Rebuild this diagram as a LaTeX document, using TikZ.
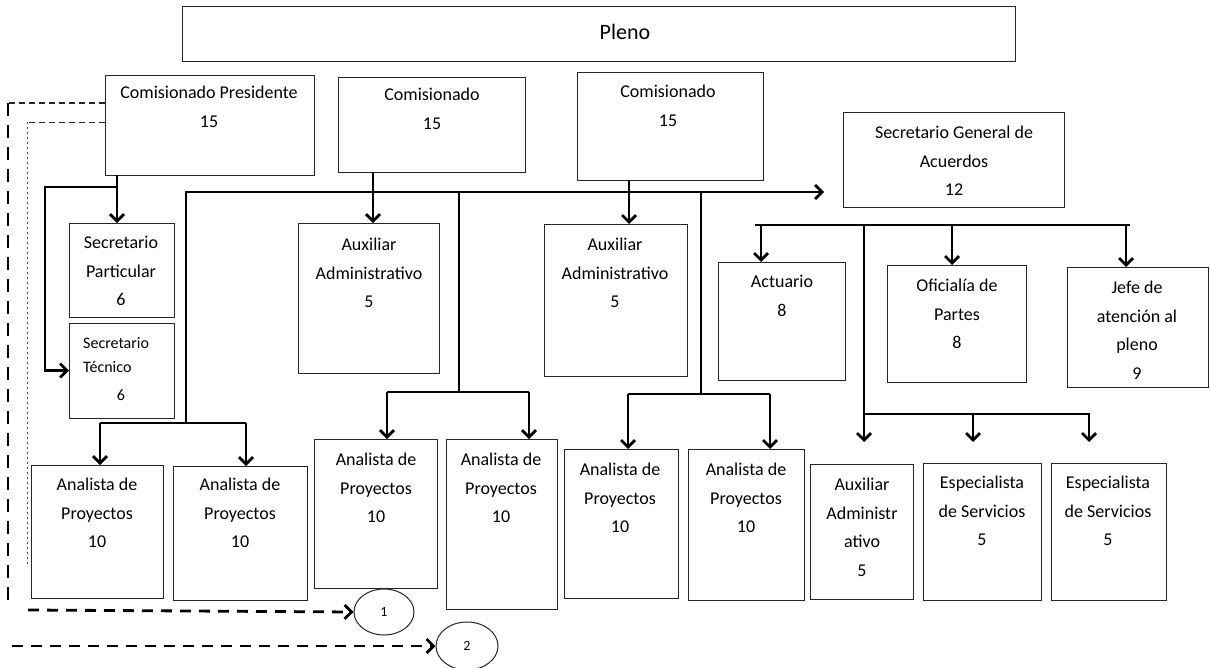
\documentclass[tikz,border=0pt]{standalone}
\usepackage{fontspec}
\setmainfont{Carlito}
\usetikzlibrary{arrows.meta,fit,shapes.geometric}
\newcommand\bx[5]{\node[box, fit={(#2,#3) (#4,#5)}] (#1) {};}
\begin{document}
\begin{tikzpicture}[x=1pt,y=-1pt,
  box/.style={draw=black!85, line width=1pt, inner sep=0pt, outer sep=0pt},
  lbl/.style={font=\fontsize{18}{28.5}\selectfont, align=center, anchor=north, inner sep=0pt, text=black},
  conn/.style={line width=2.8pt, draw=black},
  arr/.style={conn, -{Straight Barb[length=7pt,width=14pt]}},
  thindash/.style={line width=1.2pt, draw=black!85, dash pattern=on 6pt off 4pt},
  thickdash/.style={line width=2.8pt, draw=black, dash pattern=on 13pt off 9pt},
  thindot/.style={line width=1pt, draw=black!70, dash pattern=on 2pt off 3pt},
  dasharr/.style={line width=2.8pt, draw=black, dash pattern=on 11pt off 8pt, -{Straight Barb[length=7pt,width=14pt]}},
  oval/.style={draw=black!85, line width=1pt, ellipse, inner sep=0pt, font=\fontsize{14}{16}\selectfont}
]
\useasboundingbox (0,0) rectangle (1210,667);

% boxes
\bx{pleno}{182}{6}{1015}{61}
\bx{cp}{105}{75}{314}{175}
\bx{c1}{338}{77}{525}{172}
\bx{c2}{577}{72}{763}{180}
\bx{sga}{843}{112}{1064}{207}
\bx{sp}{69}{223}{174}{317}
\bx{st}{69}{323}{174}{418}
\bx{aa1}{298}{223}{439}{373}
\bx{aa2}{544}{224}{687}{376}
\bx{act}{718}{262}{845}{380}
\bx{op}{887}{265}{1026}{382}
\bx{jefe}{1067}{267}{1208}{387}
\bx{ap1}{31}{465}{163}{598}
\bx{ap2}{173}{466}{307}{600}
\bx{ap3}{314}{439}{437}{588}
\bx{ap4}{446}{439}{557}{609}
\bx{ap5}{564}{449}{678}{598}
\bx{ap6}{688}{449}{804}{600}
\bx{aux3}{810}{464}{913}{599}
\bx{es1}{923}{463}{1041}{600}
\bx{es2}{1051}{463}{1166}{600}

% labels
\node[lbl, font=\fontsize{22}{26}\selectfont] (pleno-t) at (625,24) {Pleno};
\node[lbl] (cp-t) at (209,86) {Comisionado Presidente\\15};
\node[lbl] (c1-t) at (432,88) {Comisionado\\15};
\node[lbl] (c2-t) at (668,85) {Comisionado\\15};
\node[lbl] (sga-t) at (954,126) {Secretario General de\\Acuerdos\\12};
\node[lbl] (sp-t) at (121,236) {Secretario\\Particular\\6};
\node[lbl, anchor=north west, align=left, font=\fontsize{16}{24}\selectfont] (st-t) at (83,337) {Secretario\\Técnico};
\node[lbl, font=\fontsize{16}{24}\selectfont] (st-n) at (121,389) {6};
\node[lbl] (aa1-t) at (369,238) {Auxiliar\\Administrativo\\5};
\node[lbl] (aa2-t) at (615,238) {Auxiliar\\Administrativo\\5};
\node[lbl] (act-t) at (782,275) {Actuario\\8};
\node[lbl] (op-t) at (957,279) {Oficialía de\\Partes\\8};
\node[lbl] (jefe-t) at (1137,281) {Jefe de\\atención al\\pleno\\9};
\node[lbl] (ap1-t) at (97,478) {Analista de\\Proyectos\\10};
\node[lbl] (ap2-t) at (240,478) {Analista de\\Proyectos\\10};
\node[lbl] (ap3-t) at (376,453) {Analista de\\Proyectos\\10};
\node[lbl] (ap4-t) at (501,453) {Analista de\\Proyectos\\10};
\node[lbl] (ap5-t) at (620,463) {Analista de\\Proyectos\\10};
\node[lbl] (ap6-t) at (746,463) {Analista de\\Proyectos\\10};
\node[lbl] (aux3-t) at (862,478) {Auxiliar\\Administr\\ativo\\5};
\node[lbl] (es1-t) at (982,476) {Especialista\\de Servicios\\5};
\node[lbl] (es2-t) at (1108,476) {Especialista\\de Servicios\\5};

% ovals
\node[oval, minimum width=60pt, minimum height=46pt] (e1) at (384,612) {1};
\node[oval, minimum width=62pt, minimum height=48pt] (e2) at (467,646) {2};

% Comisionado Presidente connectors
\coordinate (xcp) at (117,0);
\coordinate (j1) at (117,187);
\draw[arr] (cp.south -| xcp) -- (sp.north -| xcp);
\draw[arr] (j1) -- (45,187) |- (st.west);

% main bus
\coordinate (b0) at (186,423);
\coordinate (bEnd) at (824,192);
\draw[arr] (b0) -- (186,192) -- (bEnd);
\coordinate (lb1) at (100,423);
\coordinate (lb2) at (246,423);
\draw[conn] (lb1) -- (lb2);
\draw[arr] (lb1) -- (lb1 |- ap1.north);
\draw[arr] (lb2) -- (lb2 |- ap2.north);

% Comisionado arrows
\coordinate (xc1) at (373,0);
\coordinate (xc2) at (629,0);
\draw[arr] (c1.south -| xc1) -- (aa1.north -| xc1);
\draw[arr] (c2.south -| xc2) -- (aa2.north -| xc2);

% middle branch 1
\coordinate (m1t) at (459,192);
\coordinate (m1b) at (459,392);
\coordinate (m1l) at (387,392);
\coordinate (m1r) at (529,392);
\draw[conn] (m1t) -- (m1b);
\draw[conn] (m1l) -- (m1r);
\draw[arr] (m1l) -- (m1l |- ap3.north);
\draw[arr] (m1r) -- (m1r |- ap4.north);

% middle branch 2
\coordinate (m2t) at (701,192);
\coordinate (m2b) at (701,394);
\coordinate (m2l) at (628,394);
\coordinate (m2r) at (770,394);
\draw[conn] (m2t) -- (m2b);
\draw[conn] (m2l) -- (m2r);
\draw[arr] (m2l) -- (m2l |- ap5.north);
\draw[arr] (m2r) -- (m2r |- ap6.north);

% Secretario General branch
\coordinate (s0) at (755,225);
\coordinate (s1) at (1130,225);
\draw[conn] (s0) -- (s1);
\coordinate (sa) at (761,225);
\coordinate (sb) at (952,225);
\coordinate (sc) at (1126,225);
\draw[arr] (sa) -- (sa |- act.north);
\draw[arr] (sb) -- (sb |- op.north);
\draw[arr] (sc) -- (sc |- jefe.north);

% lower right branch
\coordinate (v0) at (864,225);
\coordinate (v1) at (864,414);
\coordinate (v2) at (1090,414);
\draw[conn] (v0) -- (v1) -- (v2);
\coordinate (ta) at (864,442);
\coordinate (tb) at (973,442);
\coordinate (tc) at (1089,442);
\coordinate (hb) at (973,414);
\coordinate (hc) at (1089,414);
\draw[arr] (v1) -- (ta);
\draw[arr] (hb) -- (tb);
\draw[arr] (hc) -- (tc);

% dashed lines
\coordinate (d1) at (8,103);
\coordinate (d2) at (8,600);
\draw[thindash] (cp.west |- d1) -- (d1);
\draw[thickdash] (d1) -- (d2);
\coordinate (i1) at (27,122);
\coordinate (i2) at (27,565);
\draw[thindash, line width=0.9pt] (cp.west |- i1) -- (i1);
\draw[thindot] (i1) -- (i2);
\coordinate (a1) at (28,610);
\coordinate (a2) at (12,646);
\draw[dasharr] (a1) -- (e1.west);
\draw[dasharr] (a2) -- (e2.west);
\end{tikzpicture}
\end{document}
